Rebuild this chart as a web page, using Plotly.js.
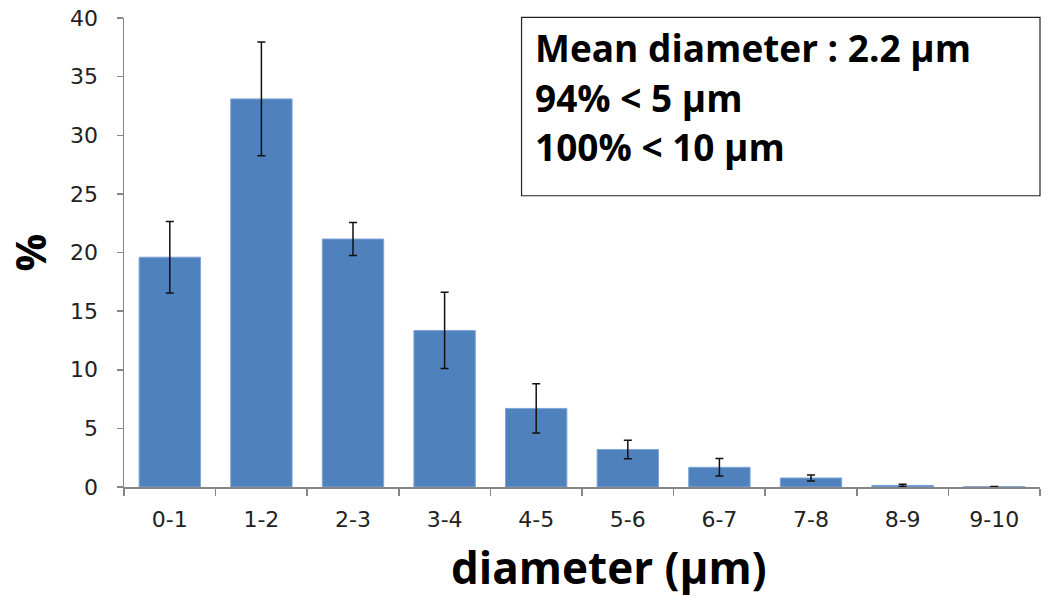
<!DOCTYPE html>
<html>
<head>
<meta charset="utf-8">
<script src="https://cdn.plot.ly/plotly-3.0.1.min.js"></script>
<style>html,body{margin:0;padding:0;background:#fff;}#chart{width:1051px;height:596px;}</style>
</head>
<body>
<div id="chart"></div>
<script>
const categories = ["0-1","1-2","2-3","3-4","4-5","5-6","6-7","7-8","8-9","9-10"];
const percentValues = [19.6, 33.1, 21.15, 13.35, 6.7, 3.2, 1.68, 0.77, 0.14, 0.03];
const errorValues = [3.05, 4.85, 1.4, 3.25, 2.1, 0.78, 0.75, 0.25, 0.1, 0.02];
const yTicks = [0, 5, 10, 15, 20, 25, 30, 35, 40];
const summaryLines = ["Mean diameter : 2.2 µm", "94% < 5 µm", "100% < 10 µm"];
const xTitle = "diameter (µm)";
const yTitle = "%";

const fontFam = "Open Sans, Liberation Sans, sans-serif";
const tickFont = {family: "DejaVu Sans", size: 22, color: "#222"};

const trace = {
  type: "bar",
  x: categories,
  y: percentValues,
  marker: {color: "#4F81BD", line: {color: "#7FA5D6", width: 1}},
  error_y: {type: "data", array: errorValues, visible: true, color: "#111", thickness: 1.5, width: 4},
  hoverinfo: "skip"
};

const linePos = [0.938, 0.830, 0.726];
const annotations = summaryLines.map((t, i) => ({
  xref: "paper", yref: "paper", x: 0.447, y: linePos[i],
  xanchor: "left", yanchor: "middle", showarrow: false,
  text: "<b>" + t + "</b>",
  font: {family: fontFam, size: 37, color: "#000"}
}));
annotations.push({
  xref: "paper", yref: "paper", x: 0.53, y: -0.17,
  xanchor: "center", yanchor: "middle", showarrow: false,
  text: "<b>" + xTitle + "</b>",
  font: {family: fontFam, size: 44, color: "#000"}
});

const layout = {
  width: 1051, height: 596,
  margin: {l: 124, r: 11, t: 18, b: 109},
  paper_bgcolor: "#fff", plot_bgcolor: "#fff",
  showlegend: false,
  bargap: 0.33,
  xaxis: {
    type: "category", range: [-0.5, 9.5],
    showline: true, linecolor: "#868686", linewidth: 1.5,
    ticks: "outside", tickson: "boundaries", ticklen: 7, tickcolor: "#868686", tickwidth: 1.5,
    tickfont: tickFont, ticklabelstandoff: 12,
    showgrid: false, zeroline: false
  },
  yaxis: {
    range: [0, 40], tickvals: yTicks,
    showline: true, linecolor: "#868686", linewidth: 1.5,
    ticks: "outside", ticklen: 6, tickcolor: "#868686", tickwidth: 1.5,
    tickfont: tickFont, ticklabelstandoff: 14,
    showgrid: false, zeroline: false,
    title: {text: "<b>" + yTitle + "</b>", font: {family: fontFam, size: 42, color: "#000"}, standoff: 10}
  },
  shapes: [{
    type: "rect", xref: "paper", yref: "paper",
    x0: 0.434, x1: 1.0, y0: 0.621, y1: 1.0015,
    line: {color: "#222", width: 1.2}, fillcolor: "rgba(0,0,0,0)"
  }],
  annotations: annotations
};

Plotly.newPlot("chart", [trace], layout, {displayModeBar: false, staticPlot: true});
</script>
</body>
</html>
